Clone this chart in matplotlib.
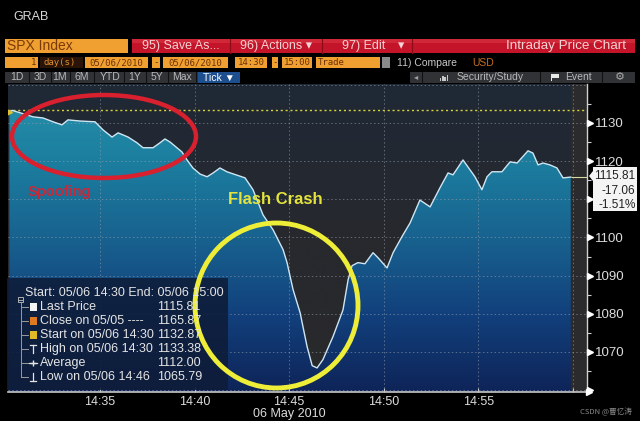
import numpy as np
import matplotlib
matplotlib.use("Agg")
import matplotlib.pyplot as plt
from matplotlib.colors import LinearSegmentedColormap
from matplotlib.patches import Rectangle, Ellipse, Polygon
from matplotlib import font_manager as fm

# ---------------- data ----------------
minutes = [0.2, 0.35, 1.45, 1.98, 2.51, 2.98, 3.30, 3.94, 4.73, 5.15,
           5.63, 5.95, 6.48, 6.95, 7.27, 7.80, 8.17, 8.43, 8.70, 9.33,
           9.60, 9.91, 10.29, 10.66, 10.98, 11.34, 11.71, 12.67, 13.09, 13.62,
           14.15, 14.68, 14.89, 15.21, 15.58, 15.95, 16.22, 16.48, 16.79, 17.32,
           17.85, 18.12, 18.33, 18.64, 19.01, 19.44, 19.70, 20.18, 20.50, 20.97,
           21.40, 21.92, 22.46, 22.98, 23.41, 23.67, 24.20, 24.83, 25.20, 25.47,
           25.73, 26.26, 26.69, 27.06, 27.64, 27.90, 28.17, 28.43, 28.80, 29.17,
           29.49, 29.90]
prices = [1132.9, 1133.3, 1131.6, 1131.3, 1130.3, 1129.5, 1130.8, 1130.5, 1130.3, 1128.2,
          1126.3, 1127.4, 1126.3, 1124.8, 1123.5, 1123.5, 1124.8, 1125.8, 1125.0, 1122.4,
          1120.3, 1118.2, 1116.6, 1115.9, 1116.9, 1118.2, 1117.2, 1115.6, 1112.5, 1105.9,
          1102.0, 1096.8, 1093.4, 1086.3, 1080.3, 1071.4, 1066.4, 1065.8, 1068.0, 1074.0,
          1081.0, 1088.9, 1092.6, 1093.4, 1093.1, 1096.0, 1094.7, 1092.0, 1096.0, 1100.2,
          1103.8, 1109.8, 1108.0, 1113.0, 1116.9, 1116.4, 1120.3, 1115.9, 1112.5, 1115.9,
          1117.2, 1117.2, 1119.8, 1119.5, 1122.7, 1122.1, 1119.0, 1119.5, 1119.0, 1118.2,
          1115.6, 1115.81]

last_price = 1115.81
prev_close = 1165.87
start_price = 1132.87
high_price = 1133.38
avg_price = 1112.00
low_price = 1065.79

time_ticks = [5, 10, 15, 20, 25, 30]
time_labels = ["14:35", "14:40", "14:45", "14:50", "14:55", ""]
price_ticks = [1070, 1080, 1090, 1100, 1110, 1120, 1130]
price_labels = ["1070", "1080", "1090", "1100", "", "1120", "1130"]  # 1110 hidden by value box
price_minor = [1065, 1075, 1085, 1095, 1105, 1115, 1125, 1135]

legend_labels = ["Last Price", "Close on 05/05 ----", "Start on 05/06 14:30",
                 "High on 05/06 14:30", "Average", "Low on 05/06 14:46"]
legend_values = [last_price, prev_close, start_price, high_price, avg_price, low_price]

# ---------------- fonts ----------------
names = {f.name for f in fm.fontManager.ttflist}
COND = "Liberation Sans Narrow" if "Liberation Sans Narrow" in names else "Liberation Sans"
plt.rcParams["font.family"] = [COND, "DejaVu Sans"]

W, H = 640, 421
fig = plt.figure(figsize=(6.4, 4.21), dpi=100, facecolor="black")

# main chart axes (pixel box x 8..587, y 84..392)
L, R, T, B = 8, 587, 84, 392
ax = fig.add_axes([L / W, (H - B) / H, (R - L) / W, (B - T) / H])
X0, X1 = 0.127, 30.76
Y0, Y1 = 1059.5, 1140.2

# background gradient above line
bg_cmap = LinearSegmentedColormap.from_list("bg", ["#29292b", "#27292e", "#1f2836"])
grad = np.linspace(0, 1, 256).reshape(-1, 1)
ax.imshow(grad, extent=[X0, X1, Y0, Y1], origin="lower", aspect="auto",
          cmap=bg_cmap, zorder=0, interpolation="bicubic")

# gradient under the line
fill_cmap = LinearSegmentedColormap.from_list(
    "fill", [(0.0, "#0e2458"), (0.25, "#12407c"), (0.5, "#18628f"),
             (0.75, "#1c7e9f"), (1.0, "#2692ab")])
im = ax.imshow(grad, extent=[X0, X1, Y0, Y1], origin="lower", aspect="auto",
               cmap=fill_cmap, zorder=1, interpolation="bicubic")
coll = ax.fill_between(minutes, prices, Y0, facecolor="none", edgecolor="none")
im.set_clip_path(coll.get_paths()[0], transform=ax.transData)

# future region (after 15:00)
ax.axvspan(minutes[-1], X1, color="#2b2b2d", zorder=1.5, lw=0)

# grid
for yv in [1060, 1070, 1080, 1090, 1100, 1110, 1120, 1130, 1140]:
    ax.axhline(yv, color="#9aa2ad", lw=0.7, ls=(0, (1.5, 2.5)), alpha=0.55, zorder=2.5)
for xv in time_ticks:
    ax.axvline(xv, color="#9aa2ad", lw=0.7, ls=(0, (1.5, 2.5)), alpha=0.55, zorder=2.5)

# high line (yellow dotted)
ax.axhline(high_price, color="#d8d23a", lw=1.0, ls=(0, (1.5, 2)), zorder=2.6)
# last price line to axis
ax.hlines(last_price, minutes[-1], X1, color="#d8d8a0", lw=0.8, zorder=2.7)

# price line
ax.plot(minutes, prices, color="#cfe6f2", lw=1.0, zorder=3)
ax.plot([minutes[0]], [start_price], marker=">", color="#e0c030", ms=5, zorder=4)

ax.set_xlim(X0, X1)
ax.set_ylim(Y0, Y1)

for s in ["left", "top"]:
    ax.spines[s].set_visible(False)
ax.spines["right"].set_color("#d0d0d0")
ax.spines["right"].set_linewidth(1.0)
ax.spines["bottom"].set_color("#c8c8c8")
ax.spines["bottom"].set_linewidth(1.2)

ax.yaxis.tick_right()
ax.set_yticks(price_ticks)
ax.set_yticklabels(price_labels)
ax.set_yticks(price_minor, minor=True)
ax.tick_params(axis="y", which="major", length=0, pad=5.5, labelcolor="#dcdcdc", labelsize=9.5)
ax.tick_params(axis="y", which="minor", length=3, width=0.8, color="#d0d0d0")
ax.set_xticks(time_ticks)
ax.set_xticklabels(time_labels)
ax.tick_params(axis="x", direction="in", length=3, color="#c8c8c8",
               labelcolor="#dcdcdc", labelsize=9, pad=3)

tri = [1060] + price_ticks
ax.plot(np.full(len(tri), 1.006), tri, transform=ax.get_yaxis_transform(),
        marker=">", ms=4.5, color="white", ls="none", clip_on=False, zorder=5)
ax.plot([1.003], [0.0], transform=ax.transAxes, marker=">", ms=5, color="white",
        clip_on=False, zorder=5)

# ---------------- overlay (pixel coordinates) ----------------
o = fig.add_axes([0, 0, 1, 1], zorder=5)
o.set_xlim(0, W)
o.set_ylim(H, 0)
o.axis("off")


def box(x0, y0, x1, y1, color, **kw):
    o.add_patch(Rectangle((x0, y0), x1 - x0, y1 - y0, facecolor=color, edgecolor="none", **kw))


def txt(x, y, s, size=9, color="#dddddd", ha="left", **kw):
    o.text(x, y, s, fontsize=size, color=color, ha=ha, va="center", **kw)


txt(13, 17, "GRAB", 9, "#d8d8d8")

# row 1
box(5, 39, 128, 53, "#f0a030")
txt(7, 46.5, "SPX Index", 10, "#7a3a0a")
box(132, 39, 635, 53, "#c4142a")
box(132, 39, 635, 43, "#d02838")
for xs in [230, 322, 412]:
    o.plot([xs, xs], [39, 53], color="#8a0a18", lw=0.8)
txt(142, 46.5, "95) Save As...", 9, "#f4d4d4")
txt(240, 46.5, "96) Actions ▾", 9, "#f4d4d4")
txt(342, 46.5, "97) Edit", 9, "#f4d4d4")
txt(398, 46.5, "▾", 9, "#f4d4d4")
txt(626, 46.5, "Intraday Price Chart", 9.7, "#f4d4d4", ha="right")

# row 2
mono = "DejaVu Sans Mono"
box(5, 57, 38, 68, "#f0a030")
txt(36, 62.5, "1", 6.5, "#6a3008", ha="right", family=mono)
box(40, 57, 83, 68, "#2a1408")
txt(44, 62.5, "day(s)", 6.5, "#e09030", family=mono)
for (a, b, s) in [(85, 148, "05/06/2010"), (152, 160, "-"), (163, 228, "05/06/2010"),
                  (235, 267, "14:30"), (272, 278, "-"), (282, 312, "15:00")]:
    box(a, 57, b, 68, "#f0a030")
    txt((a + b) / 2, 62.5, s, 6.5, "#6a3008", ha="center", family=mono)
box(316, 57, 380, 68, "#f0a030")
txt(318, 62.5, "Trade", 6.5, "#6a3008", family=mono)
box(382, 57, 390, 68, "#8a8a8a")
txt(397, 62.5, "11) Compare", 7.5, "#c8c8c8")
txt(472, 62.5, "USD", 7.5, "#c87020")

# row 3
box(5, 72, 240, 83, "#303236")
labels3 = [("1D", 17), ("3D", 40), ("1M", 60), ("6M", 82), ("YTD", 110),
           ("1Y", 135), ("5Y", 157), ("Max", 182)]
for s, xc in labels3:
    txt(xc, 77.5, s, 7.5, "#b8b8b8", ha="center")
for xs in [29, 51, 70, 94, 124, 146, 168, 196]:
    o.plot([xs, xs], [72, 83], color="#111111", lw=0.8)
box(198, 72, 240, 83, "#1d4f8f")
txt(219, 77.5, "Tick ▼", 7.5, "white", ha="center")
box(410, 72, 635, 83, "#303236")
for xs in [422, 540, 602]:
    o.plot([xs, xs], [72, 83], color="#111111", lw=0.8)
txt(416, 77.5, "◂", 6, "#a0a0a0", ha="center")
txt(457, 77.5, "Security/Study", 7.5, "#b8b8b8")
txt(565, 77.5, "Event", 7.5, "#b8b8b8")
o.add_patch(Polygon([(551, 74), (551, 81), (552, 81), (552, 77.5), (559, 77.5), (559, 74)],
                    closed=True, facecolor="#e8e8e8", edgecolor="none"))
txt(620, 77.5, "⚙", 8, "#a8a8a8", ha="center", family="DejaVu Sans")
for i, hgt in enumerate([3, 5, 4, 6]):
    box(440 + i * 2.2, 81 - hgt, 441.4 + i * 2.2, 81, "#c8c8c8")

# date label under the axis
txt(289, 414, "06 May 2010", 9, "#dcdcdc", ha="center")

# legend box
box(7, 278, 228, 390, "#0e1c38", alpha=0.88)
txt(25, 293, "Start: 05/06 14:30 End: 05/06 15:00", 9, "#e4e4e4")
rows_y = [307, 321, 335, 349, 363, 377]
sq_cols = ["#f4f4f4", "#e07a20", "#e0b828"]
for i, (lab, val) in enumerate(zip(legend_labels, legend_values)):
    y = rows_y[i]
    txt(40, y, lab, 9, "#e4e4e4")
    txt(157, y, f"{val:.2f}", 9, "#e4e4e4")
    o.plot([20.5, 28], [y, y], color="#9a9a9a", lw=0.7)
    if i < 3:
        box(29.5, y - 4, 36.5, y + 4, sq_cols[i])
# tree trunk and collapse box
o.plot([20.5, 20.5], [303, 377], color="#9a9a9a", lw=0.7)
o.add_patch(Rectangle((18, 297), 5, 5, facecolor="none", edgecolor="#b0b0b0", lw=0.7))
o.plot([19, 22], [299.5, 299.5], color="#b0b0b0", lw=0.7)
# icons for High / Average / Low
y = rows_y[3]
o.plot([33, 33], [y - 4, y + 4], color="#e4e4e4", lw=0.9)
o.plot([30, 36], [y - 4, y - 4], color="#e4e4e4", lw=0.9)
y = rows_y[4]
o.plot([29, 37], [y, y], color="#e4e4e4", lw=0.9)
o.plot([33], [y], marker="+", color="#e4e4e4", ms=5, mew=1.0)
y = rows_y[5]
o.plot([33, 33], [y - 4, y + 4], color="#e4e4e4", lw=0.9)
o.plot([30, 36], [y + 4, y + 4], color="#e4e4e4", lw=0.9)

# annotations
o.add_patch(Ellipse((104, 136.5), 184, 83, fill=False, edgecolor="#d8202e", lw=3.2))
txt(28, 192, "Spoofing", 10.5, "#c8283a", weight="bold", family="Liberation Sans")
txt(228, 199, "Flash Crash", 12, "#e4e43c", weight="bold", family="Liberation Sans")
o.add_patch(Ellipse((276.5, 305.5), 163, 165, fill=False, edgecolor="#eeee38", lw=3.5))

# last value box
o.add_patch(Polygon([(589, 176), (593, 171), (593, 167), (637, 167), (637, 211),
                     (593, 211), (593, 181)], closed=True, facecolor="#f4f4f4",
                    edgecolor="none"))
chg = last_price - start_price
pct = chg / start_price * 100
txt(635.5, 176, f"{last_price:.2f}", 8.5, "#202020", ha="right")
txt(635.5, 190.5, f"{chg:.2f}", 8.5, "#202020", ha="right")
txt(635.5, 205, f"{pct:.2f}%", 8.5, "#202020", ha="right")

# watermark
o.text(632, 412, "CSDN @曹忆涛", fontsize=5.5, color="#8a8a8a", ha="right", va="center",
       family=["Noto Sans CJK SC", "DejaVu Sans"])

fig.savefig("out.png", dpi=100, facecolor="black")
